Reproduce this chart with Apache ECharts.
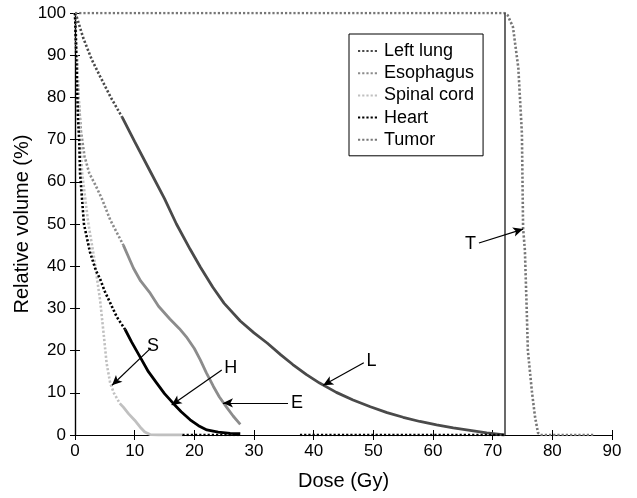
<!DOCTYPE html>
<html>
<head>
<meta charset="utf-8">
<script src="https://cdn.jsdelivr.net/npm/echarts@6/dist/echarts.min.js"></script>
<style>
  html, body { margin: 0; padding: 0; background: #fff; }
  #main { width: 637px; height: 498px; }
</style>
</head>
<body>
<div id="main"></div>
<script>
// dose (Gy), relative volume (%)
var xTicks = [0, 10, 20, 30, 40, 50, 60, 70, 80, 90]
var yTicks = [0, 10, 20, 30, 40, 50, 60, 70, 80, 90, 100]

var lungDotted = [[0, 100], [0.3, 99], [1.4, 94], [2.8, 89], [4.2, 85], [6, 80], [7.9, 75.3]]
var lungSolid = [[7.9, 75.3], [10, 69.5], [12.6, 62.5], [15, 56], [17, 50], [19.3, 44],
  [21, 39.8], [23.1, 35], [25, 31.2], [27.7, 27], [30, 24.2], [32.2, 21.8], [34.5, 19],
  [36.5, 16.7], [38.8, 14.3], [41, 12.3], [43.8, 10.1], [46.6, 8.3], [49.5, 6.7], [52.3, 5.3],
  [55, 4.2], [57.8, 3.2], [60.6, 2.4], [63.4, 1.7], [66.2, 1.1], [69, 0.5], [72, 0]]

var esoDotted = [[0, 100], [0.3, 90], [0.6, 80], [1, 72], [1.6, 66], [2.4, 62], [3.5, 59],
  [4.5, 56], [5.9, 51], [7, 48], [8.1, 45]]
var esoSolid = [[8.1, 45], [9.8, 39.5], [11, 36.5], [12.6, 33.6], [14, 30.5], [15.9, 27.5],
  [17.5, 25.2], [18.8, 23], [20, 20.5], [21, 17.8], [22, 14.8], [23.2, 11.5], [24.2, 9],
  [25.4, 6.6], [26.5, 4.5], [27.7, 2.5]]

var cordDotted = [[0, 100], [0.3, 90], [0.6, 80], [0.9, 70], [1.2, 62], [2.2, 50.5], [3.2, 42],
  [4.2, 32], [4.8, 24], [5.3, 17], [5.9, 12.3], [6.5, 10], [7.5, 7.5]]
var cordSolid = [[7.5, 7.5], [8.1, 6.6], [9, 5], [10, 3.5], [10.9, 1.9], [11.7, 0.7],
  [12.6, 0.1], [14, 0], [18, 0]]

var heartDotted = [[0, 100], [0.3, 85], [0.5, 75], [0.7, 70], [0.85, 62], [1.5, 50],
  [2.5, 43.4], [3.5, 39], [4.2, 37], [5, 34], [5.9, 31.3], [7, 28], [8.4, 25]]
var heartSolid = [[8.4, 25], [9.5, 22], [10.9, 18.5], [12.3, 15], [13.7, 12.3], [15, 9.8],
  [16.4, 7.6], [17.8, 5.5], [19.3, 3.6], [20.7, 2.2], [22.1, 1.2], [24, 0.7], [26, 0.4], [27.7, 0.3]]
var heartZero = [[18, 0], [27.7, 0], '-', [37.7, 0], [72, 0]]

var tumorDotted = [[0, 100], [72, 100], [72.5, 99.5], [73.4, 96.7], [74.3, 87], [74.9, 71.5],
  [75.1, 49], [75.4, 43.8], [75.7, 30], [75.9, 20], [76.6, 10], [77.1, 4.3], [77.6, 0.5],
  [78, 0], [87, 0]]

var prescribed = 72

// arrow labels: [text, from, to]
var notes = [
  ['T', [67.7, 45.5], [75.1, 48.8]],
  ['L', [48.4, 17.1], [41.6, 11.8]],
  ['E', [35.7, 7.6], [24.8, 7.6]],
  ['H', [24.6, 15.4], [16.2, 7.1]],
  ['S', [12.7, 20.6], [6.2, 11.8]]
]

var font = 'Liberation Sans, Arial, sans-serif'
var colors = {
  'Left lung': '#4a4a4a',
  'Esophagus': '#8c8c8c',
  'Spinal cord': '#c0c0c0',
  'Heart': '#000000',
  'Tumor': '#777777'
}

function line(name, data, dotted, z) {
  return {
    name: name,
    type: 'line',
    data: data,
    symbol: 'none',
    z: z || 2,
    lineStyle: {
      color: colors[name],
      width: dotted ? 2.6 : 2.8,
      type: dotted ? [2.2, 2] : 'solid'
    },
    itemStyle: { color: colors[name] }
  }
}

var arrows = notes.map(function (n) {
  return [
    { coord: n[1], label: { show: true, formatter: n[0] } },
    { coord: n[2] }
  ]
})

var series = [
  line('Left lung', lungDotted, true),
  line('Esophagus', esoDotted, true),
  line('Spinal cord', cordDotted, true),
  line('Heart', heartDotted, true),
  line('Tumor', tumorDotted, true),
  line('Left lung', lungSolid, false),
  line('Esophagus', esoSolid, false),
  line('Spinal cord', cordSolid, false),
  line('Heart', heartSolid, false, 3),
  line('Heart', heartZero, true)
]

// vertical line at prescription dose
series[5].markLine = {
  silent: true,
  symbol: ['none', 'none'],
  label: { show: false },
  lineStyle: { color: '#444', width: 1.6, type: 'solid' },
  data: [[{ coord: [prescribed, 0] }, { coord: [prescribed, 100] }]]
}
// arrow notes
series.push({
  name: 'notes',
  type: 'line',
  data: [],
  symbol: 'none',
  markLine: {
    silent: true,
    symbol: ['none', 'arrow'],
    symbolSize: [7, 10],
    lineStyle: { color: '#000', width: 1.2, type: 'solid' },
    label: {
      position: 'start',
      distance: 3,
      color: '#000',
      fontSize: 18,
      fontFamily: font
    },
    data: arrows
  }
})

var chart = echarts.init(document.getElementById('main'))
chart.setOption({
  animation: false,
  backgroundColor: '#fff',
  grid: { left: 75, right: 25, top: 13, bottom: 63 },
  legend: {
    data: ['Left lung', 'Esophagus', 'Spinal cord', 'Heart', 'Tumor'],
    orient: 'vertical',
    left: 349,
    top: 34,
    itemWidth: 21,
    itemHeight: 14,
    itemGap: 4.2,
    padding: [8, 9, 7, 8],
    borderColor: '#000',
    borderWidth: 1,
    backgroundColor: '#fff',
    itemStyle: { opacity: 0 },
    textStyle: { color: '#000', fontSize: 18, fontFamily: font },
    selectedMode: false
  },
  xAxis: [{
    type: 'value',
    min: 0,
    max: 90,
    interval: 10,
    name: 'Dose (Gy)',
    nameLocation: 'middle',
    nameGap: 36,
    nameTextStyle: { color: '#000', fontSize: 20, fontFamily: font },
    axisLine: { lineStyle: { color: '#000', width: 1.2 } },
    axisTick: { inside: true, length: 5, lineStyle: { color: '#000' } },
    axisLabel: { color: '#000', fontSize: 17, fontFamily: font, margin: 8 },
    splitLine: { show: false }
  }, {
    type: 'value',
    position: 'top',
    min: 0,
    max: 90,
    interval: 10,
    axisLine: { show: true, lineStyle: { color: '#000', width: 1.2 } },
    axisTick: { inside: true, length: 5, lineStyle: { color: '#000' } },
    axisLabel: { show: false },
    splitLine: { show: false }
  }],
  yAxis: [{
    type: 'value',
    min: 0,
    max: 100,
    interval: 10,
    name: 'Relative volume (%)',
    nameLocation: 'middle',
    nameGap: 43,
    nameMoveOverlap: false,
    nameTextStyle: { color: '#000', fontSize: 20, fontFamily: font },
    axisLine: { show: true, lineStyle: { color: '#000', width: 1.2 } },
    axisTick: { show: true, inside: true, length: 5, lineStyle: { color: '#000' } },
    axisLabel: { color: '#000', fontSize: 17, fontFamily: font, margin: 9 },
    splitLine: { show: false }
  }, {
    type: 'value',
    position: 'right',
    min: 0,
    max: 100,
    interval: 10,
    axisLine: { show: true, lineStyle: { color: '#000', width: 1.2 } },
    axisTick: { show: true, inside: true, length: 5, lineStyle: { color: '#000' } },
    axisLabel: { show: false },
    splitLine: { show: false }
  }],
  series: series
})
</script>
</body>
</html>
